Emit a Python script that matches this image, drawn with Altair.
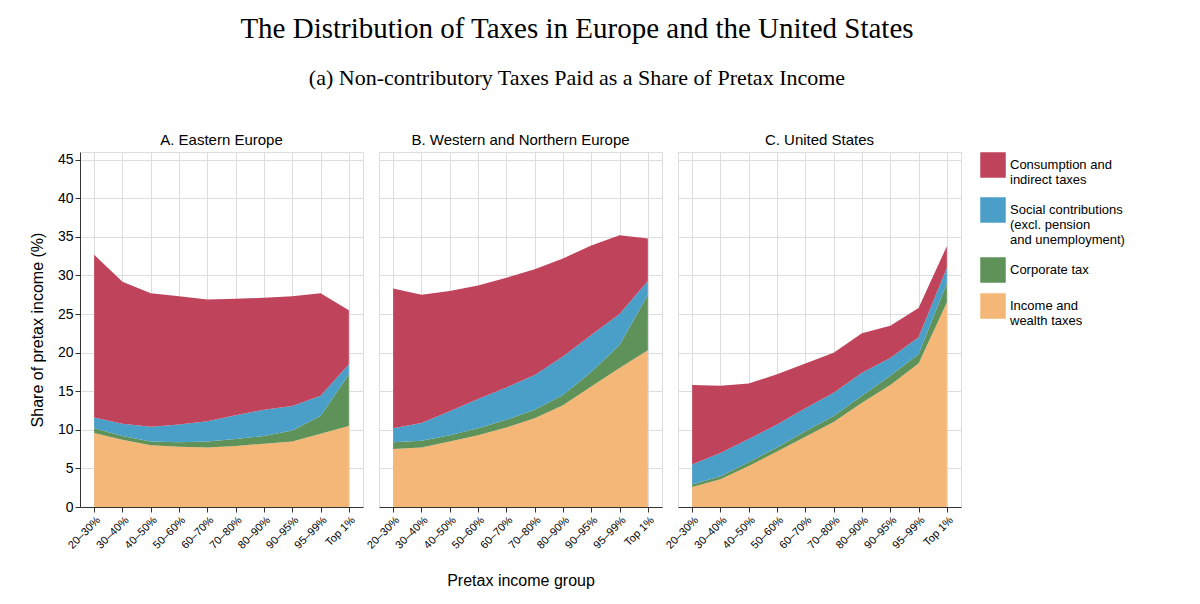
import altair as alt
import pandas as pd

groups = ["20–30%", "30–40%", "40–50%", "50–60%", "60–70%", "70–80%", "80–90%", "90–95%", "95–99%", "Top 1%"]
regions = ["A. Eastern Europe", "B. Western and Northern Europe", "C. United States"]
layers = ["Consumption and|indirect taxes", "Social contributions|(excl. pension|and unemployment)",
          "Corporate tax", "Income and|wealth taxes"]
colors = ["#c0435c", "#4a9fc9", "#5e9259", "#f4b777"]

# cumulative tops: income, +corporate, +social, +consumption
east = [
    [9.6, 8.7, 8.0, 7.8, 7.7, 7.9, 8.2, 8.5, 9.5, 10.5],
    [10.2, 9.2, 8.5, 8.4, 8.5, 8.8, 9.2, 9.9, 11.8, 17.2],
    [11.6, 10.8, 10.4, 10.7, 11.1, 11.9, 12.6, 13.1, 14.4, 18.5],
    [32.7, 29.2, 27.7, 27.3, 26.9, 27.0, 27.1, 27.3, 27.7, 25.5],
]
west = [
    [7.5, 7.7, 8.5, 9.3, 10.3, 11.5, 13.2, 15.6, 18.0, 20.3],
    [8.4, 8.6, 9.3, 10.2, 11.3, 12.6, 14.5, 17.5, 21.0, 27.5],
    [10.2, 10.9, 12.4, 14.0, 15.5, 17.1, 19.5, 22.3, 25.0, 29.3],
    [28.3, 27.5, 28.0, 28.7, 29.7, 30.8, 32.2, 33.9, 35.2, 34.8],
]
us = [
    [2.6, 3.6, 5.3, 7.2, 9.1, 11.0, 13.5, 15.8, 18.6, 26.5],
    [2.9, 4.0, 5.8, 7.7, 9.8, 11.8, 14.4, 17.0, 19.8, 29.0],
    [5.5, 7.0, 8.8, 10.7, 12.8, 14.8, 17.4, 19.3, 22.0, 31.0],
    [15.8, 15.7, 16.0, 17.2, 18.6, 20.0, 22.5, 23.5, 25.8, 33.8],
]

rows = []
for region, cum in zip(regions, [east, west, us]):
    for k in range(4):
        name = layers[3 - k]
        for i, g in enumerate(groups):
            lo = cum[k - 1][i] if k > 0 else 0
            rows.append({"region": region, "group": g, "layer": name, "lo": lo, "hi": cum[k][i]})
df = pd.DataFrame(rows)


def panel(region, first, middle):
    yaxis = alt.Axis(values=list(range(0, 50, 5)), gridColor="#dddddd", tickColor="#333",
                     domainColor="#333", labelFontSize=14, titleFontSize=16,
                     titleFontWeight="normal", titlePadding=12)
    if not first:
        yaxis = alt.Axis(values=list(range(0, 50, 5)), gridColor="#dddddd", labels=False,
                         ticks=False, domain=False, title=None, minExtent=0, offset=0)
    return (
        alt.Chart(df[df.region == region], title=alt.TitleParams(region, fontSize=15,
                                                                  fontWeight="normal", offset=4))
        .mark_area(opacity=1)
        .encode(
            x=alt.X("group:N", sort=groups, title="Pretax income group" if middle else None,
                    scale=alt.Scale(paddingInner=1, paddingOuter=0.3),
                    axis=alt.Axis(labelAngle=-45, grid=True, gridColor="#dddddd",
                                  tickColor="#333", domainColor="#333", labelFontSize=11,
                                  titleFontSize=16, titleFontWeight="normal", titlePadding=22)),
            y=alt.Y("lo:Q", title="Share of pretax income (%)",
                    scale=alt.Scale(domain=[0, 46], nice=False), axis=yaxis),
            y2="hi:Q",
            color=alt.Color("layer:N", sort=layers, scale=alt.Scale(domain=layers, range=colors),
                            legend=alt.Legend(title=None, symbolType="square", symbolSize=650,
                                              symbolStrokeWidth=0, labelFontSize=13,
                                              labelExpr="split(datum.label, '|')",
                                              rowPadding=10, offset=18)),
            detail="layer:N",
        )
        .properties(width=283, height=355)
    )


chart = (
    alt.hconcat(panel(regions[0], True, False), panel(regions[1], False, True),
                panel(regions[2], False, False), spacing=0)
    .resolve_scale(y="shared")
    .properties(title=alt.TitleParams(
        "The Distribution of Taxes in Europe and the United States",
        subtitle="(a) Non-contributory Taxes Paid as a Share of Pretax Income",
        font="Liberation Serif", fontSize=29, fontWeight="normal",
        subtitleFont="Liberation Serif", subtitleFontSize=22, subtitleColor="black",
        subtitlePadding=24, offset=44, anchor="middle"))
    .configure_view(stroke=None)
    .configure(font="Liberation Sans", padding={"left": 20, "top": 6, "right": 5, "bottom": 5})
)

chart.save("out.html", embed_options={"renderer": "svg", "actions": False})
